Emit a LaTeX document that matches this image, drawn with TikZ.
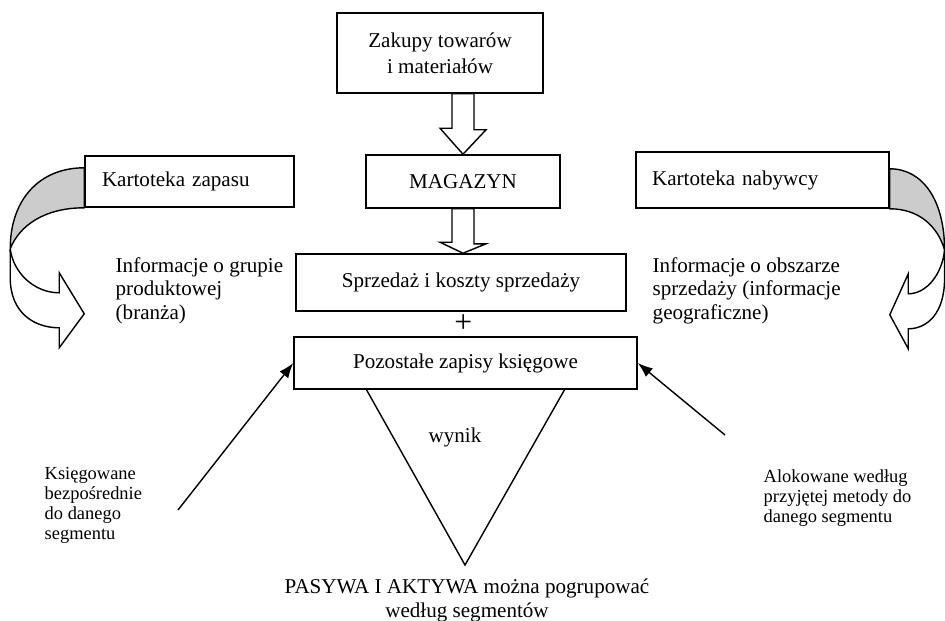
\documentclass[tikz,border=0pt]{standalone}
\usepackage{fontspec}
\setmainfont{Liberation Serif}
\usepackage{tikz}
\usetikzlibrary{arrows.meta,calc}

% curved ribbon arrow next to a card box
\newcommand{\kartarrow}{%
	\filldraw[fill=gray!40] (0,-40) .. controls (-45,-40) and (-74,-8) .. (-74,41) .. controls (-65,18) and (-40,0) .. (0,0) -- cycle;
	\filldraw[fill=white] (-74,41) -- (-74,70) .. controls (-74,105) and (-50,120) .. (-25,120) -- (-25,140) -- (0,106) -- (-25,65) -- (-25,85) .. controls (-50,85) and (-71,65) .. (-74,41) -- cycle;
}

\begin{document}
\begin{tikzpicture}[x=0.02cm, y=-0.02cm, line width=0.8pt,
		every node/.style={font=\fontsize{12}{14}\selectfont},
		box/.style={draw, line width=0.9pt, align=center},
		hollow/.style={draw, fill=white, line join=miter},
		pointer/.style={-{Latex[length=0.3cm,width=0.22cm]}},
		small/.style={font=\fontsize{10.5}{11.3}\selectfont, align=left, inner sep=0},
		info/.style={font=\fontsize{12}{13.3}\selectfont, align=left, inner sep=0}]
		\useasboundingbox (0,0) rectangle (945,620);

		\node[box, font=\fontsize{12}{15}\selectfont, minimum width=4.12cm, minimum height=1.6cm] (zakupy) at (440,53) {Zakupy towarów\\i materiałów};
		\node[box, minimum width=3.88cm, minimum height=1.06cm] (magazyn) at (463,181.5) {MAGAZYN};
		\node[box, minimum width=6.6cm, minimum height=1.14cm] (sprzedaz) at (461,282.5) {Sprzedaż i koszty sprzedaży};
		\node[box, minimum width=6.86cm, minimum height=1.04cm] (pozostale) at (465.5,363) {Pozostałe zapisy księgowe};

		\node[box, align=left, text width=3.5cm, inner xsep=0.34cm, minimum height=1.02cm] (zapasu) at (189.5,181.5) {Kartoteka zapasu};
		\node[box, align=left, text width=4.42cm, inner xsep=0.32cm, minimum height=1.12cm] (nabywcy) at (762.5,180) {Kartoteka nabywcy};

		% hollow arrows between the middle boxes
		\draw[hollow] (magazyn.north) -- ++(-23,-26) -- ++(12,0) |- ($(zakupy.south -| magazyn.north)+(11,0)$) -- ++(0,36) -- ++(12,0) -- cycle;
		\draw[hollow] (sprzedaz.north -| magazyn.south) -- ++(-23,-11) -- ++(12,0) |- ($(magazyn.south)+(11,0)$) -- ++(0,35) -- ++(12,0) -- cycle;

		\node[font=\fontsize{18}{18}\selectfont, inner sep=0] (plus) at ($(sprzedaz.south)!0.5!(pozostale.north)$) {+};

		% curved arrows from the card boxes
		\begin{scope}[shift={(zapasu.south west)}]
			\kartarrow
		\end{scope}
		\begin{scope}[shift={(nabywcy.south east)}, xscale=-0.74]
			\kartarrow
		\end{scope}

		\node[info, anchor=north west] (grupa) at (115,257) {Informacje o grupie\\produktowej\\(branża)};
		\node[info, anchor=north west] (obszar) at (652,257) {Informacje o obszarze\\sprzedaży (informacje\\geograficzne)};

		% result triangle
		\coordinate (tip) at (465,565);
		\draw ($(pozostale.south)+(-99,0)$) -- (tip) -- ($(pozostale.south)+(99,0)$);
		\node (wynik) at (455,437) {wynik};

		\coordinate (ksieg) at (178,510);
		\coordinate (aloko) at (725,435);
		\draw[pointer] (ksieg) -- (pozostale.west);
		\draw[pointer] (aloko) -- (pozostale.east);

		\node[small, anchor=north west] (ksiegtxt) at (44,467) {Księgowane\\bezpośrednie\\do danego\\segmentu};
		\node[small, anchor=north west] (alokotxt) at (763,469) {Alokowane według\\przyjętej metody do\\danego segmentu};

		\node[align=center, anchor=north, inner sep=0] (pasywa) at ($(tip)+(2,13)$) {PASYWA I AKTYWA można pogrupować\\według segmentów};

	\end{tikzpicture}
\end{document}
